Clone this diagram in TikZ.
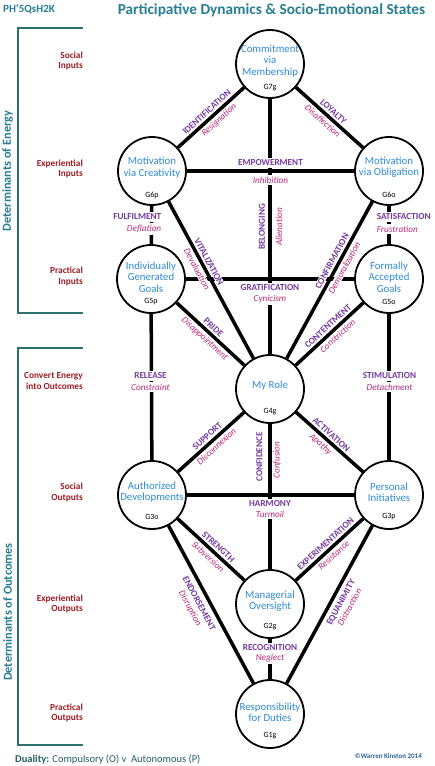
\documentclass[tikz,border=0pt]{standalone}
\usepackage{fontspec}
\setmainfont{Carlito}
\usetikzlibrary{calc}
\definecolor{ttlteal}{RGB}{40,126,146}
\definecolor{brk}{RGB}{44,112,112}
\definecolor{nblue}{RGB}{46,140,216}
\definecolor{pur}{RGB}{118,58,160}
\definecolor{mag}{RGB}{190,40,118}
\definecolor{dred}{RGB}{158,28,36}
\definecolor{foot}{RGB}{38,96,106}
\definecolor{copyc}{RGB}{44,100,150}
\tikzset{
  gnode/.style={circle, draw=black, line width=1.8pt, fill=white, minimum size=68pt, inner sep=0pt},
  ntext/.style={text=nblue, font=\fontsize{10.8}{11.3}\selectfont, align=center, inner sep=0pt},
  gtag/.style={font=\fontsize{8}{8.5}\selectfont, inner sep=0pt},
  edge/.style={line width=3.5pt, draw=black},
  plab/.style={text=pur, font=\bfseries\fontsize{9.2}{10}\selectfont, fill=white, inner sep=0.6pt},
  nlab/.style={text=mag, font=\itshape\fontsize{9.2}{10}\selectfont, fill=white, inner sep=0.6pt},
  onl/.style={inner ysep=2pt},
  side/.style={text=dred, font=\bfseries\fontsize{9.3}{10.5}\selectfont, align=right, anchor=east, inner sep=0pt},
  bracket/.style={draw=brk, line width=2pt},
  dtxt/.style={text=ttlteal, font=\bfseries\fontsize{12.3}{13}\selectfont, inner sep=0pt},
  ttl/.style={text=ttlteal, font=\bfseries\fontsize{15.3}{16}\selectfont, inner sep=0pt},
  pairlab/.style={font=\fontsize{9.2}{10}\selectfont, align=center, inner sep=0.6pt, fill=white},
}
\newcommand{\pf}{\color{pur}\bfseries}
\newcommand{\nf}{\color{mag}\itshape}
\begin{document}
\begin{tikzpicture}[x=1pt,y=-1pt]
\useasboundingbox (0,0) rectangle (435,766);
\fill[white] (0,0) rectangle (435,766);

% header
\node[ttl] (title) at (271.5,10) {Participative Dynamics \& Socio-Emotional States};
\node[text=ttlteal, font=\bfseries\fontsize{11}{12}\selectfont, anchor=west, inner sep=0pt] (code) at (3,9) {PH’5QsH2K};

% brackets
\draw[bracket] (83,28) -- (18,28) -- (18,313) -- (83,313);
\draw[bracket] (83,348) -- (18,348) -- (18,745) -- (83,745);
\node[dtxt, rotate=90] (detE) at (7.5,171) {Determinants of Energy};
\node[dtxt, rotate=90] (detO) at (7.5,612) {Determinants of Outcomes};

% side labels
\node[side] (s1) at (83,61) {Social\\Inputs};
\node[side] (s2) at (83,169) {Experiential\\Inputs};
\node[side] (s3) at (83,276.5) {Practical\\Inputs};
\node[side] (s4) at (83,381) {Convert Energy\\into Outcomes};
\node[side] (s5) at (83,492.5) {Social\\Outputs};
\node[side] (s6) at (83,604) {Experiential\\Outputs};
\node[side] (s7) at (83,713) {Practical\\Outputs};

% circles
\node[gnode] (g7) at (270,64) {};
\node[gnode] (g6p) at (152,171) {};
\node[gnode] (g6o) at (389,171) {};
\node[gnode] (g5p) at (151,279) {};
\node[gnode] (g5o) at (389,279) {};
\node[gnode] (g4) at (270,389) {};
\node[gnode] (g3o) at (152,495) {};
\node[gnode] (g3p) at (389,495) {};
\node[gnode] (g2) at (270,604) {};
\node[gnode] (g1) at (270,714) {};

\node[ntext] (t7) at (270,61) {Commitment\\via\\Membership};
\node[ntext] (t6p) at (152,167.5) {Motivation\\via Creativity};
\node[ntext] (t6o) at (389,167.5) {Motivation\\via Obligation};
\node[ntext] (t5p) at (151,277) {Individually\\Generated\\Goals};
\node[ntext] (t5o) at (389,277) {Formally\\Accepted\\Goals};
\node[ntext] (t4) at (270,386) {My Role};
\node[ntext] (t3o) at (152,492) {Authorized\\Developments};
\node[ntext] (t3p) at (389,492) {Personal\\Initiatives};
\node[ntext] (t2) at (270,601.5) {Managerial\\Oversight};
\node[ntext] (t1) at (270,712) {Responsibility\\for Duties};

\node[gtag] (c7) at (270,88) {G7g};
\node[gtag] (c6p) at (152,195) {G6p};
\node[gtag] (c6o) at (389,195) {G6o};
\node[gtag] (c5p) at (151,302) {G5p};
\node[gtag] (c5o) at (389,302) {G5o};
\node[gtag] (c4) at (270,412) {G4g};
\node[gtag] (c3o) at (152,517) {G3o};
\node[gtag] (c3p) at (389,517) {G3p};
\node[gtag] (c2) at (270,627) {G2g};
\node[gtag] (c1) at (270,736) {G1g};

% edges
\draw[edge] (g6p) -- (g7);
\draw[edge] (g7) -- (g6o);
\draw[edge] (g7) -- (g4);
\draw[edge] (g6p) -- (g6o);
\draw[edge] (g6p) -- (g5p);
\draw[edge] (g6o) -- (g5o);
\draw[edge] (g6p) -- (g4);
\draw[edge] (g4) -- (g6o);
\draw[edge] (g5p) -- (g5o);
\draw[edge] (g5p) -- (g4);
\draw[edge] (g4) -- (g5o);
\draw[edge] (g5p) -- (g3o);
\draw[edge] (g5o) -- (g3p);
\draw[edge] (g3o) -- (g4);
\draw[edge] (g4) -- (g3p);
\draw[edge] (g4) -- (g2);
\draw[edge] (g3o) -- (g3p);
\draw[edge] (g3o) -- (g2);
\draw[edge] (g2) -- (g3p);
\draw[edge] (g3o) -- (g1);
\draw[edge] (g1) -- (g3p);
\draw[edge] (g2) -- (g1);

% sloped labels
\path (g6p) -- node[plab, sloped, pos=.505, above=3pt] (l1p) {IDENTIFICATION} node[nlab, sloped, pos=.545, below=3pt] (l1n) {Resignation} (g7);
\path (g7) -- node[plab, sloped, pos=.49, above=3pt] (l2p) {LOYALTY} node[nlab, sloped, pos=.47, below=3pt] (l2n) {Disaffection} (g6o);
\path (g6p) -- node[plab, sloped, pos=.405, above=3pt] (l7p) {VITALIZATION} node[nlab, sloped, pos=.41, below=3pt] (l7n) {Devaluation} (g4);
\path (g4) -- node[plab, sloped, pos=.60, above=3pt] (l8p) {CONFIRMATION} node[nlab, sloped, pos=.60, below=3pt] (l8n) {Demoralization} (g6o);
\path (g5p) -- node[plab, sloped, pos=.476, above=3pt] (l10p) {PRIDE} node[nlab, sloped, pos=.49, below=3pt] (l10n) {Disappointment} (g4);
\path (g4) -- node[plab, sloped, pos=.546, above=3pt] (l11p) {CONTENTMENT} node[nlab, sloped, pos=.55, below=3pt] (l11n) {Constriction} (g5o);
\path (g3o) -- node[plab, sloped, pos=.513, above=3pt] (l14p) {SUPPORT} node[nlab, sloped, pos=.51, below=3pt] (l14n) {Disconnexion} (g4);
\path (g4) -- node[plab, sloped, pos=.46, above=3pt] (l15p) {ACTIVATION} node[nlab, sloped, pos=.44, below=3pt] (l15n) {Apathy} (g3p);
\path (g3o) -- node[plab, sloped, pos=.54, above=3pt] (l18p) {STRENGTH} node[nlab, sloped, pos=.53, below=3pt] (l18n) {Subversion} (g2);
\path (g2) -- node[plab, sloped, pos=.51, above=3pt] (l19p) {EXPERIMENTATION} node[nlab, sloped, pos=.49, below=3pt] (l19n) {Resistance} (g3p);
\path (g3o) -- node[pairlab, sloped, pos=.463, below=6pt] (l20) {{\pf ENDORSEMENT}\\{\nf Disruption}} (g1);
\path (g1) -- node[pairlab, sloped, pos=.54, below=5pt] (l21) {{\pf EQUANIMITY}\\{\nf Distraction}} (g3p);

% axis-aligned labels
\node[plab, onl] (l3p) at (270.5,163) {EMPOWERMENT};
\node[nlab, onl] (l3n) at (270.5,180) {Inhibition};
\node[plab, rotate=90] (l4p) at (262,227) {BELONGING};
\node[nlab, rotate=90] (l4n) at (279,227) {Alienation};
\node[plab, onl, anchor=east] (l5p) at (162,217) {FULFILMENT};
\node[nlab, onl, anchor=east] (l5n) at (162,229) {Deflation};
\node[plab, onl, anchor=west] (l6p) at (376,217) {SATISFACTION};
\node[nlab, onl, anchor=west] (l6n) at (376,229) {Frustration};
\node[plab, onl] (l9p) at (270,288) {GRATIFICATION};
\node[nlab, onl] (l9n) at (270,299) {Cynicism};
\node[plab, onl] (l12p) at (150.5,376) {RELEASE};
\node[nlab, onl] (l12n) at (150.5,387) {Constraint};
\node[plab, onl] (l13p) at (389.5,376) {STIMULATION};
\node[nlab, onl] (l13n) at (389.5,387) {Detachment};
\node[plab, rotate=90] (l16p) at (259.5,457) {CONFIDENCE};
\node[nlab, rotate=90] (l16n) at (277,460) {Confusion};
\node[plab, onl] (l17p) at (270,504) {HARMONY};
\node[nlab, onl] (l17n) at (270,514) {Turmoil};
\node[plab, onl] (l22p) at (270,648) {RECOGNITION};
\node[nlab, onl] (l22n) at (270,658) {Neglect};

% footer
\node[anchor=west, text=foot, font=\fontsize{10.5}{11}\selectfont, inner sep=0pt] (dual) at (15,759) {\textbf{Duality:} Compulsory (O) v\ \ Autonomous (P)};
\node[anchor=east, text=copyc, font=\bfseries\fontsize{7}{8}\selectfont, inner sep=0pt] (copy) at (422,756) {©Warren Kinston 2014};
\end{tikzpicture}
\end{document}
